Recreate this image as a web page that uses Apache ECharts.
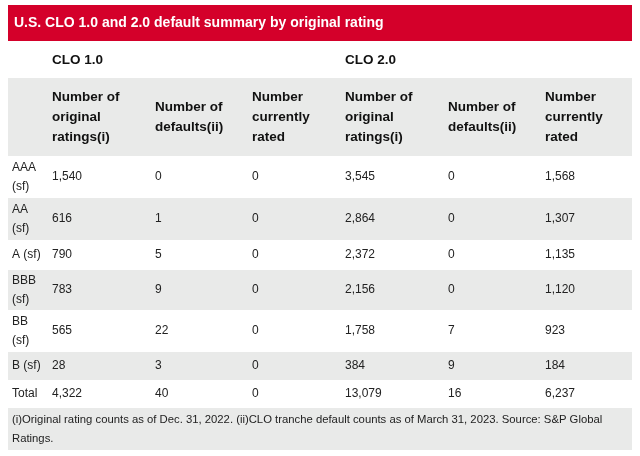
<!DOCTYPE html>
<html><head><meta charset="utf-8">
<script src="https://cdn.jsdelivr.net/npm/echarts@6/dist/echarts.min.js"></script>
<style>html,body{margin:0;padding:0;background:#fff}#c{width:640px;height:456px}</style>
</head><body><div id="c"></div>
<script>
const title = "U.S. CLO 1.0 and 2.0 default summary by original rating";
const groups = ["CLO 1.0", "CLO 2.0"];
const headers = ["Number of\noriginal\nratings(i)", "Number of\ndefaults(ii)", "Number\ncurrently\nrated",
  "Number of\noriginal\nratings(i)", "Number of\ndefaults(ii)", "Number\ncurrently\nrated"];
const ratings = ["AAA\n(sf)", "AA\n(sf)", "A (sf)", "BBB\n(sf)", "BB\n(sf)", "B (sf)", "Total"];
const clo1Original = ["1,540", "616", "790", "783", "565", "28", "4,322"];
const clo1Defaults = ["0", "1", "5", "9", "22", "3", "40"];
const clo1Current = ["0", "0", "0", "0", "0", "0", "0"];
const clo2Original = ["3,545", "2,864", "2,372", "2,156", "1,758", "384", "13,079"];
const clo2Defaults = ["0", "0", "0", "0", "7", "9", "16"];
const clo2Current = ["1,568", "1,307", "1,135", "1,120", "923", "184", "6,237"];
const footnote = "(i)Original rating counts as of Dec. 31, 2022. (ii)CLO tranche default counts as of March 31, 2023. Source: S&P Global\nRatings.";

const cols = [clo1Original, clo1Defaults, clo1Current, clo2Original, clo2Defaults, clo2Current];
const colX = [52, 155, 252, 345, 448, 545];
const rowEdges = [156, 198, 240, 270, 310, 352, 380, 408];
const font = "Liberation Sans, Arial, sans-serif";
const L = 8, R = 632;
const gray = "#e9eae9";

const g = [];
g.push({type: "rect", shape: {x: L, y: 5, width: R - L, height: 36}, style: {fill: "#d4002a"}});
g.push({type: "text", x: 14, y: 23, style: {text: title, fill: "#fff", font: "bold 14px " + font, textVerticalAlign: "middle"}});
g.push({type: "text", x: colX[0], y: 60, style: {text: groups[0], fill: "#111", font: "bold 13.5px " + font, textVerticalAlign: "middle"}});
g.push({type: "text", x: colX[3], y: 60, style: {text: groups[1], fill: "#111", font: "bold 13.5px " + font, textVerticalAlign: "middle"}});
g.push({type: "rect", shape: {x: L, y: 78, width: R - L, height: 78}, style: {fill: gray}});
headers.forEach((h, i) => g.push({type: "text", x: colX[i], y: 117,
  style: {text: h, fill: "#111", font: "bold 13.5px " + font, lineHeight: 20, textVerticalAlign: "middle"}}));
ratings.forEach((r, i) => {
  const y0 = rowEdges[i], y1 = rowEdges[i + 1], ym = (y0 + y1) / 2;
  if (i % 2 === 1) g.push({type: "rect", shape: {x: L, y: y0, width: R - L, height: y1 - y0}, style: {fill: gray}});
  g.push({type: "text", x: 12, y: ym, style: {text: r, fill: "#222", font: "12px " + font, lineHeight: 19, textVerticalAlign: "middle"}});
  cols.forEach((c, j) => g.push({type: "text", x: colX[j], y: ym,
    style: {text: c[i], fill: "#222", font: "12px " + font, textVerticalAlign: "middle"}}));
});
g.push({type: "rect", shape: {x: L, y: 408, width: R - L, height: 42}, style: {fill: gray}});
g.push({type: "text", x: 12, y: 429, style: {text: footnote, fill: "#222", font: "11.3px " + font, lineHeight: 19, textVerticalAlign: "middle"}});

const chart = echarts.init(document.getElementById("c"));
chart.setOption({backgroundColor: "#fff", graphic: {elements: g}});
</script></body></html>
